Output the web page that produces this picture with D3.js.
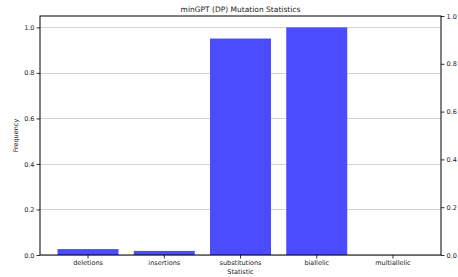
<!DOCTYPE html>
<html>
<head>
<meta charset="utf-8">
<style>
body { margin: 0; background: #fff; }
text { font-family: "DejaVu Sans", sans-serif; fill: #222; }
</style>
</head>
<body>
<svg width="458" height="277"></svg>
<script src="https://cdn.jsdelivr.net/npm/d3@7/dist/d3.min.js"></script>
<script>
// categories and frequencies
var categories = ["deletions", "insertions", "substitutions", "biallelic", "multiallelic"];
var freq = [0.026, 0.018, 0.951, 1.0, 0.0];
var leftTicks = [0.0, 0.2, 0.4, 0.6, 0.8, 1.0];
var rightTicks = [0.0, 0.2, 0.4, 0.6, 0.8, 1.0];

var svg = d3.select("svg");
var plotL = 40, plotR = 441, plotT = 16, plotB = 255;

var x = d3.scaleBand()
  .domain(categories)
  .range([plotL, plotR])
  .paddingInner(0.2)
  .paddingOuter(0.23);

var y = d3.scaleLinear().domain([0, 1.05]).range([plotB, plotT]);
var y2 = d3.scaleLinear().domain([0, 1.0]).range([plotB, plotT]);

// grid lines
svg.append("g")
  .selectAll("line")
  .data(leftTicks)
  .enter()
  .append("line")
  .attr("x1", plotL)
  .attr("x2", plotR)
  .attr("y1", function(d) { return Math.round(y(d)) + 0.5; })
  .attr("y2", function(d) { return Math.round(y(d)) + 0.5; })
  .attr("stroke", "#c8c8c8")
  .attr("stroke-width", 0.8);

// bars
svg.append("g")
  .selectAll("rect")
  .data(freq)
  .enter()
  .append("rect")
  .attr("x", function(d, i) { return x(categories[i]); })
  .attr("width", x.bandwidth())
  .attr("y", function(d) { return y(d); })
  .attr("height", function(d) { return plotB - y(d); })
  .attr("fill", "#4b4bff");

// axes
var fs = "6.5px";
var xAxis = svg.append("g")
  .attr("transform", "translate(0," + plotB + ")")
  .call(d3.axisBottom(x).tickSize(3.5).tickPadding(2));
var yAxis = svg.append("g")
  .attr("transform", "translate(" + plotL + ",0)")
  .call(d3.axisLeft(y).tickValues(leftTicks).tickFormat(d3.format(".1f")).tickSize(3.5).tickPadding(2));
var yAxis2 = svg.append("g")
  .attr("transform", "translate(" + plotR + ",0)")
  .call(d3.axisRight(y2).tickValues(rightTicks).tickFormat(d3.format(".1f")).tickSize(3.5).tickPadding(2));

[xAxis, yAxis, yAxis2].forEach(function(g) {
  g.select(".domain").remove();
  g.selectAll("line").attr("stroke", "#000").attr("stroke-width", 0.8);
  g.selectAll("text").style("font-size", fs).attr("fill", "#222").style("font-family", "DejaVu Sans");
});

// frame
svg.append("rect")
  .attr("x", plotL)
  .attr("y", plotT)
  .attr("width", plotR - plotL)
  .attr("height", plotB - plotT)
  .attr("fill", "none")
  .attr("stroke", "#000")
  .attr("stroke-width", 1);

// labels
svg.append("text")
  .attr("x", (plotL + plotR) / 2)
  .attr("y", 12)
  .attr("text-anchor", "middle")
  .style("font-size", "7.5px")
  .text("minGPT (DP) Mutation Statistics");

svg.append("text")
  .attr("x", (plotL + plotR) / 2)
  .attr("y", 274)
  .attr("text-anchor", "middle")
  .style("font-size", "6.5px")
  .text("Statistic");

svg.append("text")
  .attr("transform", "translate(18," + (plotT + plotB) / 2 + ") rotate(-90)")
  .attr("text-anchor", "middle")
  .style("font-size", "6.5px")
  .text("Frequency");
</script>
</body>
</html>
